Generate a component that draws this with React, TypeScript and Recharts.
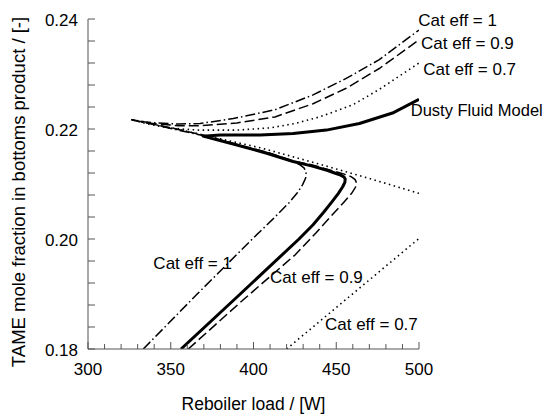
import React from 'react';
import { LineChart, Line, XAxis, YAxis, ReferenceDot } from 'recharts';

// Reboiler load [W] vs TAME mole fraction in bottoms product [-]
const dustyFluidModel = [
  { x: 356.2, y: 0.18 },
  { x: 392.0, y: 0.19 },
  { x: 427.5, y: 0.2 },
  { x: 436.0, y: 0.2026 },
  { x: 442.5, y: 0.2049 },
  { x: 447.5, y: 0.2068 },
  { x: 451.3, y: 0.2083 },
  { x: 453.9, y: 0.2095 },
  { x: 455.2, y: 0.2103 },
  { x: 455.4, y: 0.2109 },
  { x: 454.6, y: 0.2113 },
  { x: 452.6, y: 0.2116 },
  { x: 449.0, y: 0.2120 },
  { x: 444.4, y: 0.2125 },
  { x: 435.0, y: 0.2133 },
  { x: 423.9, y: 0.2141 },
  { x: 408.0, y: 0.2156 },
  { x: 390.0, y: 0.2171 },
  { x: 369.5, y: 0.2187 },
  { x: 380.0, y: 0.2189 },
  { x: 404.0, y: 0.2189 },
  { x: 424.0, y: 0.2192 },
  { x: 444.0, y: 0.2198 },
  { x: 464.0, y: 0.2210 },
  { x: 484.0, y: 0.2229 },
  { x: 500.0, y: 0.2254 },
];

const catEff09 = [
  { x: 360.6, y: 0.18 },
  { x: 394.0, y: 0.189 },
  { x: 425.1, y: 0.1971 },
  { x: 438.0, y: 0.2012 },
  { x: 448.2, y: 0.2046 },
  { x: 455.0, y: 0.2068 },
  { x: 459.3, y: 0.2083 },
  { x: 461.6, y: 0.2094 },
  { x: 462.3, y: 0.2102 },
  { x: 461.4, y: 0.2108 },
  { x: 459.2, y: 0.2113 },
  { x: 455.8, y: 0.2117 },
  { x: 451.5, y: 0.2121 },
  { x: 444.4, y: 0.2127 },
  { x: 435.0, y: 0.2135 },
  { x: 423.9, y: 0.2142 },
  { x: 408.0, y: 0.2158 },
  { x: 390.0, y: 0.2172 },
  { x: 369.5, y: 0.2189 },
  { x: 350.0, y: 0.2202 },
  { x: 336.0, y: 0.2211 },
  { x: 326.0, y: 0.2217 },
  { x: 334.0, y: 0.2212 },
  { x: 341.5, y: 0.2209 },
  { x: 355.0, y: 0.2206 },
  { x: 367.7, y: 0.2206 },
  { x: 390.0, y: 0.2211 },
  { x: 413.0, y: 0.2222 },
  { x: 436.0, y: 0.2246 },
  { x: 456.0, y: 0.2274 },
  { x: 476.0, y: 0.2310 },
  { x: 500.0, y: 0.2362 },
];

const catEff1 = [
  { x: 333.4, y: 0.18 },
  { x: 366.0, y: 0.19 },
  { x: 399.3, y: 0.2 },
  { x: 412.0, y: 0.2037 },
  { x: 421.5, y: 0.2066 },
  { x: 426.5, y: 0.2084 },
  { x: 429.7, y: 0.2099 },
  { x: 431.5, y: 0.2111 },
  { x: 431.8, y: 0.2121 },
  { x: 430.6, y: 0.2129 },
  { x: 428.0, y: 0.2135 },
  { x: 423.9, y: 0.2141 },
  { x: 408.0, y: 0.2157 },
  { x: 390.0, y: 0.2171 },
  { x: 369.5, y: 0.2188 },
  { x: 350.0, y: 0.2201 },
  { x: 336.0, y: 0.2211 },
  { x: 326.0, y: 0.2217 },
  { x: 334.0, y: 0.2213 },
  { x: 341.5, y: 0.2211 },
  { x: 355.0, y: 0.2209 },
  { x: 367.7, y: 0.2210 },
  { x: 387.8, y: 0.2219 },
  { x: 413.0, y: 0.2235 },
  { x: 436.0, y: 0.2262 },
  { x: 456.0, y: 0.2292 },
  { x: 476.0, y: 0.2326 },
  { x: 500.0, y: 0.2380 },
];

const catEff07 = [
  { x: 420.0, y: 0.18 },
  { x: 500.0, y: 0.2001 },
  { x: 500.0, y: null },
  { x: 500.0, y: 0.2083 },
  { x: 470.0, y: 0.2110 },
  { x: 440.0, y: 0.2136 },
  { x: 404.0, y: 0.2166 },
  { x: 380.0, y: 0.2182 },
  { x: 355.0, y: 0.2199 },
  { x: 340.0, y: 0.2208 },
  { x: 326.0, y: 0.2217 },
  { x: 335.0, y: 0.2210 },
  { x: 345.0, y: 0.2204 },
  { x: 356.0, y: 0.2200 },
  { x: 367.0, y: 0.2198 },
  { x: 390.0, y: 0.2198 },
  { x: 410.0, y: 0.2202 },
  { x: 425.0, y: 0.2210 },
  { x: 440.0, y: 0.2222 },
  { x: 460.0, y: 0.2244 },
  { x: 476.0, y: 0.2272 },
  { x: 500.0, y: 0.2320 },
];

const xTicks = [300, 310, 320, 330, 340, 350, 360, 370, 380, 390, 400, 410, 420, 430, 440, 450, 460, 470, 480, 490, 500];
const xMajorTicks = [300, 350, 400, 450, 500];
const yTicks = [0.18, 0.184, 0.188, 0.192, 0.196, 0.2, 0.204, 0.208, 0.212, 0.216, 0.22, 0.224, 0.228, 0.232, 0.236, 0.24];
const yMajorTicks = [0.18, 0.2, 0.22, 0.24];

const annotations = [
  { text: 'Cat eff = 1', x: 499.6, y: 0.2398 },
  { text: 'Cat eff = 0.9', x: 501.2, y: 0.2356 },
  { text: 'Cat eff = 0.7', x: 502.6, y: 0.2310 },
  { text: 'Dusty Fluid Model', x: 495.0, y: 0.22345 },
  { text: 'Cat eff = 1', x: 339.5, y: 0.19567 },
  { text: 'Cat eff = 0.9', x: 410.0, y: 0.19304 },
  { text: 'Cat eff = 0.7', x: 443.2, y: 0.18455 },
];

const FONT = '"Liberation Sans", Arial, sans-serif';
const AXIS_COLOR = '#555';

const isMajor = (v: number, majors: number[]) => majors.some((m) => Math.abs(m - v) < 1e-9);

const XTick = (props: any) => {
  const { x, y, payload } = props;
  const major = isMajor(payload.value, xMajorTicks);
  return (
    <g>
      <line x1={x} x2={x} y1={y} y2={y - (major ? 7 : 5)} stroke={AXIS_COLOR} strokeWidth={1} />
      {major && (
        <text x={x} y={y + 26} textAnchor="middle" fontSize={17} fontFamily={FONT} fill="#000">
          {payload.value}
        </text>
      )}
    </g>
  );
};

const YTick = (props: any) => {
  const { x, y, payload } = props;
  const major = isMajor(payload.value, yMajorTicks);
  return (
    <g>
      <line x1={x} x2={x + 7} y1={y} y2={y} stroke={AXIS_COLOR} strokeWidth={1} />
      {major && (
        <text x={x - 10} y={y + 6.5} textAnchor="end" fontSize={17} fontFamily={FONT} fill="#000">
          {payload.value.toFixed(2)}
        </text>
      )}
    </g>
  );
};

export default function App() {
  return (
    <LineChart
      width={543}
      height={406}
      margin={{ top: 11, right: 132, bottom: 25, left: 5 }}
      style={{ fontFamily: FONT, overflow: 'visible' }}
    >
      <XAxis
        type="number"
        dataKey="x"
        domain={[300, 500]}
        ticks={xTicks}
        interval={0}
        allowDataOverflow
        height={40}
        tickSize={0}
        tickMargin={0}
        tick={<XTick />}
        stroke={AXIS_COLOR}
        label={{
          content: (p: any) => {
            const vb = p.viewBox;
            return (
              <text x={vb.x + vb.width / 2} y={vb.y + 61} textAnchor="middle" fontSize={17.5} fontFamily={FONT} fill="#000">
                Reboiler load / [W]
              </text>
            );
          },
        }}
      />
      <YAxis
        type="number"
        dataKey="y"
        domain={[0.18, 0.24]}
        ticks={yTicks}
        interval={0}
        allowDataOverflow
        width={75}
        tickSize={0}
        tickMargin={0}
        tick={<YTick />}
        stroke={AXIS_COLOR}
        label={{
          content: (p: any) => {
            const vb = p.viewBox;
            const cx = vb.x + 5.5;
            const cy = vb.y + vb.height / 2 + 8;
            return (
              <text
                x={cx}
                y={cy}
                transform={`rotate(-90, ${cx}, ${cy})`}
                textAnchor="middle"
                dominantBaseline="central"
                fontSize={18.5}
                fontFamily={FONT}
                fill="#000"
              >
                TAME mole fraction in bottoms product / [-]
              </text>
            );
          },
        }}
      />
      <Line data={catEff07} dataKey="y" type="linear" stroke="#000" strokeWidth={1.6} strokeDasharray="1.5 3.5" dot={false} isAnimationActive={false} />
      <Line data={catEff1} dataKey="y" type="linear" stroke="#000" strokeWidth={1.5} strokeDasharray="10 3 1.5 3" dot={false} isAnimationActive={false} />
      <Line data={catEff09} dataKey="y" type="linear" stroke="#000" strokeWidth={1.5} strokeDasharray="10 4" dot={false} isAnimationActive={false} />
      <Line data={dustyFluidModel} dataKey="y" type="linear" stroke="#000" strokeWidth={3} strokeLinejoin="round" dot={false} isAnimationActive={false} />
      {annotations.map((a, i) => (
        <ReferenceDot
          key={i}
          x={a.x}
          y={a.y}
          r={0}
          ifOverflow="visible"
          shape={(p: any) => (
            <text x={p.cx} y={p.cy} dy={6} textAnchor="start" fontSize={a.text.length > 14 ? 16.5 : 17} fontFamily={FONT} fill="#000">
              {a.text}
            </text>
          )}
        />
      ))}
    </LineChart>
  );
}
